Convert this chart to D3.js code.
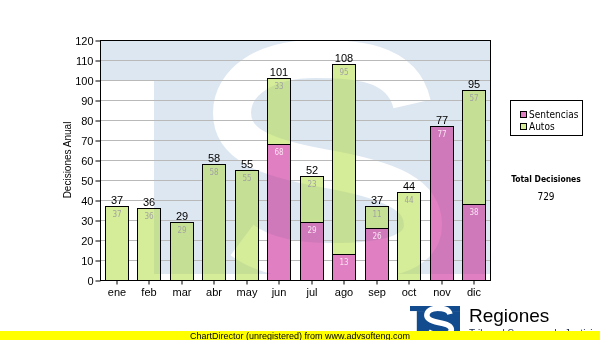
<!DOCTYPE html>
<html><head><meta charset="utf-8">
<script src="https://cdn.jsdelivr.net/npm/d3@7"></script>
<style>
  body { margin: 0; background: #fff; }
  svg { display: block; }
</style>
</head><body>
<svg id="chart" width="600" height="340"></svg>
<script>
// Monthly decisions, stacked by type
const months = ["ene", "feb", "mar", "abr", "may", "jun", "jul", "ago", "sep", "oct", "nov", "dic"];
const sentencias = [0, 0, 0, 0, 0, 68, 29, 13, 26, 0, 77, 38];
const autos = [37, 36, 29, 58, 55, 33, 23, 95, 11, 44, 0, 57];
const yTickValues = [0, 10, 20, 30, 40, 50, 60, 70, 80, 90, 100, 110, 120];
const seriesNames = ["Sentencias", "Autos"];
const seriesColors = ["#e07fc1", "#d5ec99"];
const innerLabelColors = ["#fbe2f3", "#a2a2a2"];

const svg = d3.select("#chart");
const defs = svg.append("defs");

const plot = { left: 100, top: 40, right: 490, bottom: 280 };

const x = d3.scaleBand().domain(months)
  .range([plot.left, plot.right]).paddingInner(0.28).paddingOuter(0.14);
const y = d3.scaleLinear().domain([0, 120]).range([plot.bottom, plot.top]);

const rows = months.map((m, i) => ({ month: m, Sentencias: sentencias[i], Autos: autos[i] }));
const stacked = d3.stack().keys(seriesNames)(rows);
const totals = rows.map(r => r.Sentencias + r.Autos);

// Emblem: a "T" block with an "S" cut through it (local frame 389 x 239)
const emblemBlocks = [[0, 0, 389, 39], [53, 39, 336, 194]];
const emblemStart = [311, 63];
const emblemCurves = [
  [[301, 19], [251, 18], [214, 18]],
  [[164, 18], [131, 41], [131, 72]],
  [[131, 104], [166, 117], [221, 127]],
  [[291, 139], [322, 154], [322, 184]],
  [[322, 214], [281, 221], [231, 221]],
  [[191, 221], [161, 214], [141, 199]]
];

let maskCount = 0;
function drawEmblem(parent, box, color, strokeW) {
  const id = "emblemMask" + (maskCount++);
  const sx = box.w / 389, sy = box.h / 239;
  const px = v => box.x + v[0] * sx, py = v => box.y + v[1] * sy;
  const p = d3.path();
  p.moveTo(px(emblemStart), py(emblemStart));
  emblemCurves.forEach(c => p.bezierCurveTo(px(c[0]), py(c[0]), px(c[1]), py(c[1]), px(c[2]), py(c[2])));
  const mask = defs.append("mask").attr("id", id).attr("maskUnits", "userSpaceOnUse")
    .attr("x", box.x).attr("y", box.y).attr("width", box.w).attr("height", box.h);
  mask.append("rect").attr("x", box.x).attr("y", box.y).attr("width", box.w).attr("height", box.h).attr("fill", "#fff");
  mask.append("path").attr("d", p.toString()).attr("fill", "none").attr("stroke", "#000").attr("stroke-width", strokeW);
  const g = parent.append("g").attr("mask", `url(#${id})`);
  emblemBlocks.forEach(b => g.append("rect")
    .attr("x", box.x + b[0] * sx).attr("y", box.y + b[1] * sy)
    .attr("width", b[2] * sx).attr("height", b[3] * sy).attr("fill", color));
  return g;
}

const wmBox = { x: plot.left + 1, y: plot.top + 1, w: 389, h: 239 };
const wmColor = "#dde7f1";

// Watermark behind the plot
drawEmblem(svg.append("g"), wmBox, wmColor, 38);

// Grid lines
svg.append("g").selectAll("line").data(yTickValues.filter(v => v > 0 && v < 120)).join("line")
  .attr("x1", plot.left).attr("x2", plot.right)
  .attr("y1", d => Math.round(y(d)) + 0.5).attr("y2", d => Math.round(y(d)) + 0.5)
  .attr("stroke", "#b9b9b9").attr("stroke-width", 1);

// Stacked bars
const bw = Math.round(x.bandwidth());
const barX = m => Math.round(x(m)) + 0.5;
const segs = stacked.flatMap((layer, si) =>
  layer.filter(d => d[1] - d[0] > 0).map(d => ({ si, d })));
const segY = s => Math.round(y(s.d[1])) + 0.5;
const segH = s => Math.round(y(s.d[0])) - Math.round(y(s.d[1]));

svg.append("g").selectAll("rect").data(segs).join("rect")
  .attr("x", s => barX(s.d.data.month))
  .attr("y", segY)
  .attr("width", bw)
  .attr("height", segH)
  .attr("fill", s => seriesColors[s.si])
  .attr("stroke", "#000").attr("stroke-width", 1);

// Watermark tint showing faintly through the bars
const clip = defs.append("clipPath").attr("id", "barsClip");
clip.selectAll("rect").data(segs).join("rect")
  .attr("x", s => barX(s.d.data.month) + 0.5)
  .attr("y", s => segY(s) + 0.5)
  .attr("width", bw - 1)
  .attr("height", s => segH(s) - 1);
const tint = svg.append("g").attr("clip-path", "url(#barsClip)")
  .style("mix-blend-mode", "multiply").attr("opacity", 0.55);
drawEmblem(tint, wmBox, wmColor, 38);

// Segment labels
svg.append("g").selectAll("text").data(segs).join("text")
  .attr("x", s => barX(s.d.data.month) + bw / 2)
  .attr("y", s => Math.round(y(s.d[1])) + 11)
  .attr("text-anchor", "middle")
  .attr("font-family", "DejaVu Sans Condensed, DejaVu Sans")
  .attr("font-size", 8)
  .attr("fill", s => innerLabelColors[s.si])
  .text(s => s.d[1] - s.d[0]);

// Totals on top
svg.append("g").selectAll("text").data(rows).join("text")
  .attr("x", d => barX(d.month) + bw / 2)
  .attr("y", (d, i) => Math.round(y(totals[i])) - 2)
  .attr("text-anchor", "middle")
  .attr("font-family", "Liberation Sans, Arial")
  .attr("font-size", 11)
  .attr("fill", "#000")
  .text((d, i) => totals[i]);

// Plot frame
svg.append("rect")
  .attr("x", plot.left + 0.5).attr("y", plot.top + 0.5)
  .attr("width", plot.right - plot.left).attr("height", plot.bottom - plot.top)
  .attr("fill", "none").attr("stroke", "#000");

// Axes
const yAxis = svg.append("g").attr("transform", `translate(${plot.left + 0.5},0.5)`)
  .call(d3.axisLeft(y).tickValues(yTickValues).tickSize(5).tickPadding(2));
const xAxis = svg.append("g").attr("transform", `translate(0.5,${plot.bottom + 0.5})`)
  .call(d3.axisBottom(x).tickSize(4).tickPadding(4));
[yAxis, xAxis].forEach(a => {
  a.select(".domain").remove();
  a.selectAll("line").attr("stroke", "#000");
  a.selectAll("text").attr("fill", "#000")
    .attr("font-family", "Liberation Sans, Arial").attr("font-size", 11);
});
xAxis.selectAll(".tick").attr("transform", d => `translate(${barX(d) + bw / 2 - 0.5},0)`);

// Y axis title
svg.append("text")
  .attr("transform", `translate(70.5,${(plot.top + plot.bottom) / 2}) rotate(-90)`)
  .attr("text-anchor", "middle")
  .attr("font-family", "Liberation Sans, Arial").attr("font-size", 10)
  .attr("fill", "#000")
  .text("Decisiones Anual");

// Legend
const legend = svg.append("g");
legend.append("rect").attr("x", 510.5).attr("y", 100.5).attr("width", 72).attr("height", 35)
  .attr("fill", "#fff").attr("stroke", "#000");
seriesNames.forEach((name, i) => {
  const ly = 110.5 + i * 12.5;
  legend.append("rect").attr("x", 520.5).attr("y", Math.round(ly) + 0.5).attr("width", 6).attr("height", 6)
    .attr("fill", seriesColors[i]).attr("stroke", "#000");
  legend.append("text").attr("x", 529).attr("y", Math.round(ly) + 7)
    .attr("font-family", "DejaVu Sans Condensed, DejaVu Sans").attr("font-size", 10)
    .attr("fill", "#000").text(name);
});

// Annual total
svg.append("text").attr("x", 546).attr("y", 182)
  .attr("text-anchor", "middle")
  .attr("font-family", "DejaVu Sans Condensed, DejaVu Sans").attr("font-weight", "bold").attr("font-size", 8.5)
  .attr("fill", "#000").text("Total Decisiones");
svg.append("text").attr("x", 546).attr("y", 200)
  .attr("text-anchor", "middle")
  .attr("font-family", "DejaVu Sans Condensed, DejaVu Sans").attr("font-size", 10)
  .attr("fill", "#000").text(d3.sum(totals));

// Footer emblem and caption
drawEmblem(svg.append("g"), { x: 410, y: 306, w: 50, h: 31 }, "#124b8e", 5.5);
svg.append("text").attr("x", 469).attr("y", 322)
  .attr("font-family", "Liberation Sans, Arial").attr("font-size", 19)
  .attr("fill", "#000").text("Regiones");
svg.append("text").attr("x", 469).attr("y", 337)
  .attr("font-family", "Liberation Sans, Arial").attr("font-size", 10)
  .attr("fill", "#1a2a4a").text("Tribunal Supremo de Justicia");

svg.append("rect").attr("x", 0).attr("y", 331).attr("width", 600).attr("height", 9).attr("fill", "#ffff00");
svg.append("text").attr("x", 300).attr("y", 338.5)
  .attr("text-anchor", "middle")
  .attr("font-family", "Liberation Sans, Arial").attr("font-size", 9)
  .attr("fill", "#000").text("ChartDirector (unregistered) from www.advsofteng.com");
</script>
</body></html>
